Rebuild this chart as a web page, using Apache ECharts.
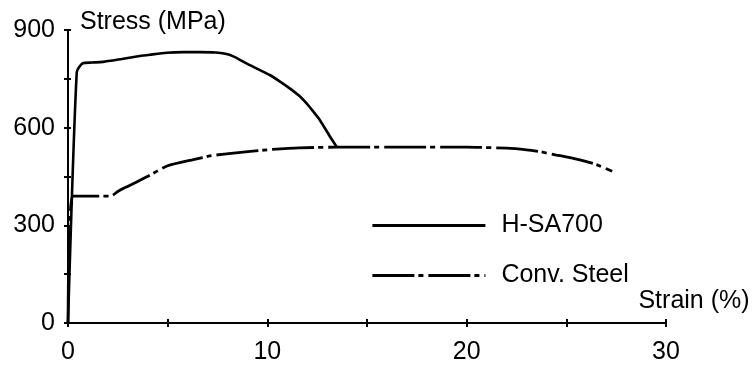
<!DOCTYPE html>
<html><head><meta charset="utf-8">
<script src="https://cdn.jsdelivr.net/npm/echarts@6/dist/echarts.min.js"></script>
<style>html,body{margin:0;padding:0;background:#fff}#c{width:753px;height:365px}</style>
</head><body><div id="c"></div>
<script>
const seriesNames = ['H-SA700', 'Conv. Steel'];
const hsa700 = [[0,0],[0.44,771],[0.74,798],[1.2,800],[1.76,802],[2.7,811],[3.6,820],[4.11,824],[4.95,830],[5.79,832],[6.6,832],[7.4,831],[7.9,827],[8.3,819],[8.7,806],[9.13,792],[10.14,761],[10.6,743],[11.14,720],[11.6,698],[11.98,674],[12.3,650],[12.64,623],[13.15,572],[13.48,541]];
const convSteel = [[0,0],[0.23,390],[1.2,390],[2.15,390],[2.5,404],[2.94,418],[3.95,449],[5.0,483],[6.29,502],[7.2,514],[8.3,522],[10.0,532],[11.6,538],[13.5,540],[16.7,540],[20.0,540],[22.0,537],[23.0,532],[23.7,526],[24.5,516],[25.4,505],[26.4,489],[27.3,466]];
const xTicks = [0, 10, 20, 30];
const yTicks = [0, 300, 600, 900];

const font = 'Liberation Sans, Arial, sans-serif';
const chart = echarts.init(document.getElementById('c'), null, {renderer: 'canvas'});
chart.setOption({
  animation: false,
  backgroundColor: '#fff',
  grid: {left: 68, right: 87, top: 30, bottom: 42, containLabel: false},
  legend: {
    orient: 'vertical', left: 366, top: 208, itemWidth: 113, itemHeight: 2, itemGap: 25,
    data: seriesNames,
    itemStyle: {color: 'rgba(0,0,0,0)', borderWidth: 0, opacity: 0},
    lineStyle: {width: 2.8},
    textStyle: {fontFamily: font, fontSize: 25, color: '#000', padding: [0, 0, 0, 11]}
  },
  xAxis: [{
    type: 'value', min: 0, max: 30, interval: 5,
    axisLine: {show: true, lineStyle: {color: '#000', width: 2}},
    axisTick: {show: true, length: 4, lineStyle: {color: '#000', width: 2}},
    splitLine: {show: false},
    axisLabel: {margin: 17, color: '#000', fontFamily: font, fontSize: 25,
      formatter: v => xTicks.indexOf(v) >= 0 ? String(v) : ''},
    name: 'Strain (%)', nameLocation: 'end', nameGap: 28,
    nameTextStyle: {fontFamily: font, fontSize: 25, color: '#000', align: 'center', verticalAlign: 'bottom', lineHeight: 44}
  }, {
    type: 'value', min: 0, max: 30, interval: 5, position: 'bottom',
    axisLine: {show: false}, axisLabel: {show: false}, splitLine: {show: false},
    axisTick: {show: true, inside: true, length: 4, lineStyle: {color: '#000', width: 2}}
  }],
  yAxis: [{
    type: 'value', min: 0, max: 900, interval: 150,
    axisLine: {show: true, lineStyle: {color: '#000', width: 2}},
    axisTick: {show: true, length: 4, lineStyle: {color: '#000', width: 2}},
    splitLine: {show: false},
    axisLabel: {margin: 13, color: '#000', fontFamily: font, fontSize: 25,
      formatter: v => yTicks.indexOf(v) >= 0 ? String(v) : ''},
    name: 'Stress (MPa)', nameLocation: 'end', nameGap: 8,
    nameTextStyle: {fontFamily: font, fontSize: 25, color: '#000', align: 'left', verticalAlign: 'middle', padding: [0, 0, 0, 12]}
  }, {
    type: 'value', min: 0, max: 900, interval: 150, position: 'left',
    axisLine: {show: false}, axisLabel: {show: false}, splitLine: {show: false},
    axisTick: {show: true, inside: true, length: 3, lineStyle: {color: '#000', width: 2}}
  }],
  series: [{
    name: seriesNames[0], type: 'line', data: hsa700, symbol: 'none', smooth: 0.2,
    lineStyle: {color: '#000', width: 2.6}, itemStyle: {color: '#000'}
  }, {
    name: seriesNames[1], type: 'line', data: convSteel, symbol: 'none', smooth: 0.2,
    lineStyle: {color: '#000', width: 2.8, type: [42, 4, 5, 5]}, itemStyle: {color: '#000'}
  }]
});
</script></body></html>
